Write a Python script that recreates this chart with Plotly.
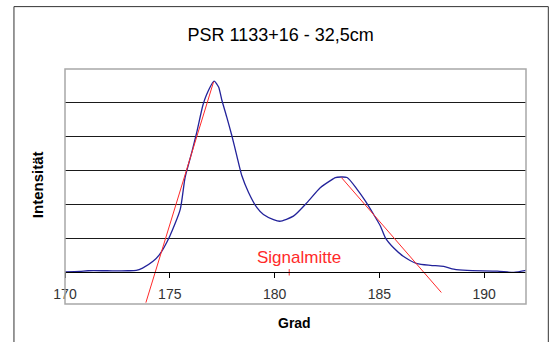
import plotly.graph_objects as go

# ---- data ----
grad = [170.0, 170.7, 171.1, 172.0, 173.0, 173.4, 173.7, 174.2, 174.5, 175.0,
        175.5, 175.73, 176.05, 176.29, 176.58, 176.74, 177.12, 177.33, 177.49, 177.72,
        177.96, 178.2, 178.44, 178.76, 179.16, 179.47, 179.95, 180.25, 180.9, 181.55,
        182.18, 182.82, 182.9, 183.46, 183.94, 184.33, 184.73, 185.05, 185.29, 185.69,
        186.16, 186.8, 187.44, 188.07, 188.55, 189.19, 190.63, 191.42, 192.0]
intensitaet = [0.02, 0.03, 0.05, 0.05, 0.05, 0.06, 0.13, 0.33, 0.52, 1.07,
               1.86, 2.80, 3.54, 4.14, 4.93, 5.22, 5.64, 5.47, 5.07, 4.58,
               4.04, 3.44, 2.85, 2.36, 1.91, 1.71, 1.56, 1.51, 1.66, 2.06,
               2.50, 2.77, 2.80, 2.80, 2.45, 2.11, 1.71, 1.37, 1.02, 0.72,
               0.47, 0.26, 0.21, 0.18, 0.10, 0.06, 0.04, 0.00, 0.06]

tangent_left_x = [173.86, 177.09]
tangent_left_y = [-0.89, 5.62]
tangent_right_x = [183.19, 187.96]
tangent_right_y = [2.80, -0.59]

signalmitte_x = [180.70, 180.70]
signalmitte_y = [-0.09, 0.10]

x_ticks = [170, 175, 180, 185, 190]
x_ticklabels = ["170", "175", "180", "185", "190"]
y_grid = [1, 2, 3, 4, 5]

title_text = "PSR 1133+16 - 32,5cm"
x_title = "Grad"
y_title = "Intensität"
marker_label = "Signalmitte"

FONT = "Arial, Liberation Sans, sans-serif"
BLUE = "#22229a"
RED = "#ff2a2a"

fig = go.Figure()
fig.add_trace(go.Scatter(x=grad, y=intensitaet, mode="lines",
                         line=dict(color=BLUE, width=1.3, shape="spline", smoothing=0.6),
                         hoverinfo="skip"))
fig.add_trace(go.Scatter(x=tangent_left_x, y=tangent_left_y, mode="lines",
                         line=dict(color=RED, width=1), hoverinfo="skip"))
fig.add_trace(go.Scatter(x=tangent_right_x, y=tangent_right_y, mode="lines",
                         line=dict(color=RED, width=1), hoverinfo="skip"))
fig.add_trace(go.Scatter(x=signalmitte_x, y=signalmitte_y, mode="lines",
                         line=dict(color=RED, width=1), hoverinfo="skip"))

# plot area geometry (pixels)
W, H = 553, 342
L, R, T, B = 65, 27.3, 69.3, 38
PW, PH = W - L - R, H - T - B
ymin, ymax = -0.93, 6
zero_pos = (0 - ymin) / (ymax - ymin)

fig.update_layout(
    width=W, height=H,
    margin=dict(l=L, r=R, t=T, b=B, autoexpand=False),
    paper_bgcolor="white", plot_bgcolor="white",
    showlegend=False,
    font=dict(family=FONT, color="#000"),
    title=dict(text=title_text, x=280.7 / W, xref="container", xanchor="center",
               y=1 - 35 / H, yref="container", yanchor="middle",
               font=dict(size=18, family=FONT, color="#000")),
    xaxis=dict(range=[170, 192], tickvals=x_ticks, ticktext=x_ticklabels,
               ticks="outside", ticklen=5, tickcolor="#000", tickwidth=1,
               ticklabelstandoff=4,
               showline=True, linecolor="#000", linewidth=1,
               anchor="free", position=zero_pos,
               showgrid=False, zeroline=False,
               tickfont=dict(size=14, color="#333", family=FONT)),
    yaxis=dict(range=[ymin, ymax], tickvals=y_grid, showticklabels=False,
               ticks="", showgrid=True, gridcolor="#1a1a1a", gridwidth=1,
               zeroline=False, showline=False),
    shapes=[
        # plot area border
        dict(type="rect", xref="paper", yref="paper", x0=0, x1=1, y0=0, y1=1,
             line=dict(color="#a8a8a8", width=1.5), layer="above"),
        # chart frame
        dict(type="rect", xref="paper", yref="paper",
             x0=(14 - L) / PW, x1=(548 - L) / PW,
             y0=(H - B - 350) / PH, y1=(H - B - 7) / PH,
             line=dict(color="#333", width=1)),
    ],
    annotations=[
        dict(text=marker_label, x=181.17, y=0.44, xref="x", yref="y",
             xanchor="center", yanchor="middle", showarrow=False,
             font=dict(size=17, color=RED, family=FONT)),
        dict(text="<b>%s</b>" % x_title, x=(294.7 - L) / PW,
             y=(H - B - 323) / PH, xref="paper", yref="paper",
             xanchor="center", yanchor="middle", showarrow=False,
             font=dict(size=14, color="#000", family=FONT)),
        dict(text="<b>%s</b>" % y_title, x=(38.3 - L) / PW,
             y=(H - B - 185) / PH, xref="paper", yref="paper",
             xanchor="center", yanchor="middle", showarrow=False, textangle=-90,
             font=dict(size=15, color="#000", family=FONT)),
    ],
)

fig.write_html("out.html", config={"displayModeBar": False},
               post_script="document.body.style.margin='0';document.body.style.overflow='hidden';")
